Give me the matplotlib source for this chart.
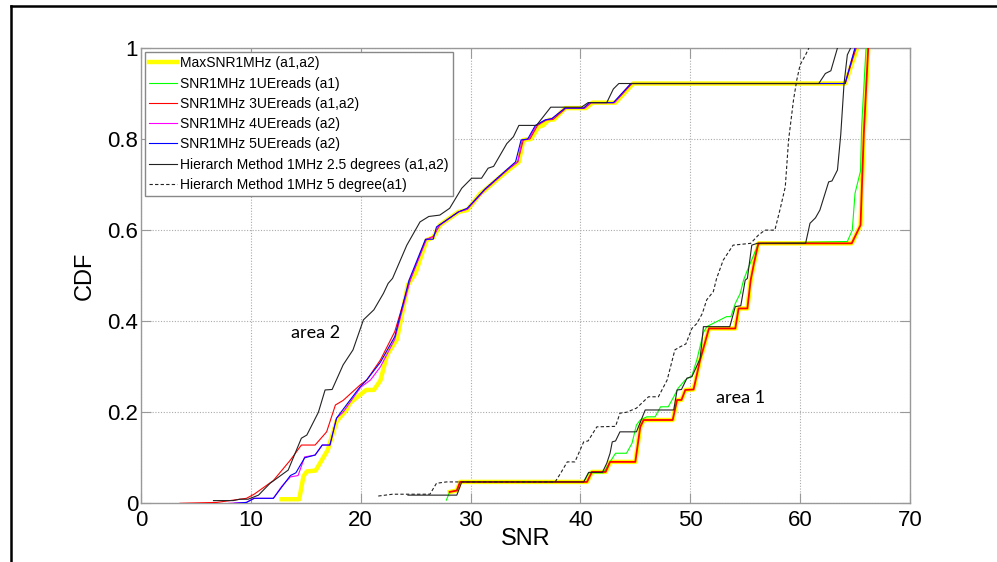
import numpy as np
import matplotlib.pyplot as plt
from matplotlib.lines import Line2D

plt.rcParams['font.family'] = ['Liberation Sans', 'DejaVu Sans']

# area 2 curves (a2)
yellow_a2_x = [12.8, 14.4, 14.8, 15.1, 15.9, 17.0, 17.8, 18.7, 19.0, 20.5, 21.2, 21.8, 22.4, 23.3, 24.3,
               25.0, 26.0, 26.6, 27.2, 28.9, 29.7, 30.9, 31.3, 32.7, 33.45, 34.4, 34.8, 35.5, 36.2, 36.6,
               37.1, 37.6, 38.6, 40.5, 41.1, 43.2, 44.8, 64.1, 65.2]
yellow_a2_y = [0.009, 0.009, 0.06, 0.07, 0.072, 0.117, 0.18, 0.205, 0.22, 0.249, 0.249, 0.27, 0.326, 0.36, 0.48,
               0.506, 0.578, 0.584, 0.611, 0.64, 0.644, 0.681, 0.688, 0.717, 0.732, 0.75, 0.798, 0.80, 0.827, 0.83,
               0.842, 0.843, 0.868, 0.868, 0.88, 0.88, 0.922, 0.922, 1.0]

red_a2_x = [3.55, 6.9, 9.6, 10.3, 12.05, 13.6, 14.6, 15.85, 16.9, 17.7, 18.4, 19.95, 20.55, 21.8, 23.1, 24.5,
            25.9, 26.6, 27.2, 28.9, 29.7, 31.3, 32.7, 33.4, 34.3, 34.8, 35.4, 36.1, 36.9, 37.5, 38.7, 40.4,
            41.0, 43.1, 44.7, 64.1, 65.1]
red_a2_y = [0.0, 0.002, 0.011, 0.02, 0.05, 0.095, 0.128, 0.128, 0.157, 0.216, 0.226, 0.26, 0.271, 0.315, 0.377, 0.49,
            0.578, 0.586, 0.611, 0.64, 0.646, 0.688, 0.718, 0.733, 0.75, 0.798, 0.80, 0.83, 0.842, 0.843, 0.868, 0.868,
            0.88, 0.88, 0.922, 0.922, 1.0]

magenta_a2_x = [8.0, 9.6, 10.3, 12.05, 12.8, 13.6, 14.3, 14.9, 15.85, 16.5, 17.2, 17.8, 18.4, 20.0, 20.9, 21.8,
                23.1, 24.5, 26.0, 26.6, 27.1, 28.9, 29.7, 31.3, 32.7, 33.4, 34.3, 34.7, 35.3, 36.0, 36.8, 37.4,
                38.6, 40.4, 40.9, 43.1, 44.6, 64.1, 65.0]
magenta_a2_y = [0.0, 0.002, 0.011, 0.011, 0.037, 0.058, 0.061, 0.102, 0.106, 0.128, 0.128, 0.187, 0.2, 0.255, 0.271, 0.30,
                0.36, 0.49, 0.58, 0.585, 0.609, 0.64, 0.646, 0.689, 0.719, 0.734, 0.75, 0.798, 0.80, 0.83, 0.842, 0.844,
                0.868, 0.868, 0.88, 0.88, 0.922, 0.922, 1.0]

blue_a2_x = [8.5, 9.6, 10.3, 12.05, 13.6, 14.1, 14.9, 15.85, 16.5, 17.2, 17.8, 18.7, 19.95, 20.55, 21.8, 23.1, 24.4,
             25.9, 26.6, 26.9, 28.9, 29.7, 31.3, 32.7, 33.4, 34.1, 34.6, 35.2, 35.9, 36.8, 37.4, 38.6, 40.3,
             40.8, 43.0, 44.6, 64.1, 65.0]
blue_a2_y = [0.0, 0.002, 0.011, 0.011, 0.061, 0.067, 0.10, 0.106, 0.128, 0.128, 0.187, 0.216, 0.256, 0.271, 0.31, 0.366, 0.49,
             0.58, 0.58, 0.607, 0.64, 0.648, 0.69, 0.72, 0.735, 0.75, 0.798, 0.80, 0.83, 0.842, 0.845, 0.868, 0.868,
             0.88, 0.88, 0.922, 0.922, 1.0]

black_a2_x = [6.6, 8.4, 9.0, 9.75, 10.7, 11.75, 13.4, 14.6, 15.1, 16.15, 16.76, 17.4, 18.4, 19.3, 20.25, 21.2, 22.07,
              22.5, 22.9, 24.2, 25.4, 26.2, 27.2, 28.1, 29.2, 30.1, 31.0, 31.6, 32.1, 33.3, 33.9, 34.4, 36.0,
              37.3, 40.1, 40.7, 42.4, 43.0, 43.5, 61.7, 62.3, 62.8, 63.4]
black_a2_y = [0.006, 0.006, 0.009, 0.009, 0.018, 0.044, 0.073, 0.143, 0.15, 0.2, 0.249, 0.25, 0.304, 0.337, 0.403, 0.425, 0.461,
              0.483, 0.494, 0.567, 0.618, 0.63, 0.633, 0.648, 0.692, 0.714, 0.714, 0.736, 0.74, 0.79, 0.805, 0.83, 0.83,
              0.87, 0.87, 0.88, 0.88, 0.91, 0.922, 0.922, 0.944, 0.95, 1.0]

# area 1 curves (a1)
yellow_a1_x = [28.1, 28.75, 29.05, 40.6, 41.05, 42.3, 42.7, 45.0, 45.45, 45.75, 48.4, 48.8, 49.2, 49.55, 50.3,
               50.9, 51.7, 54.1, 54.4, 55.2, 55.5, 55.8, 56.2, 64.7, 65.5, 65.8, 66.2]
yellow_a1_y = [0.025, 0.028, 0.047, 0.047, 0.069, 0.069, 0.091, 0.091, 0.168, 0.183, 0.183, 0.227, 0.227, 0.249, 0.25,
               0.315, 0.384, 0.384, 0.428, 0.428, 0.49, 0.527, 0.571, 0.571, 0.611, 0.813, 1.0]
red_a1_x = yellow_a1_x
red_a1_y = yellow_a1_y

green_a1_x = [27.8, 28.1, 28.75, 29.05, 40.3, 40.75, 42.1, 42.7, 43.2, 44.2, 44.7, 45.1, 45.45, 46.05, 46.8, 47.3,
              48.0, 48.5, 48.9, 49.55, 50.15, 50.6, 51.2, 51.5, 52.4, 53.3, 53.7, 54.1, 54.55, 54.85, 55.2, 56.1,
              56.4, 64.3, 64.75, 65.0, 65.5, 65.6, 66.0]
green_a1_y = [0.007, 0.025, 0.028, 0.047, 0.047, 0.067, 0.067, 0.091, 0.11, 0.11, 0.132, 0.172, 0.183, 0.19, 0.19, 0.212,
              0.212, 0.234, 0.253, 0.271, 0.28, 0.315, 0.375, 0.388, 0.399, 0.41, 0.41, 0.439, 0.461, 0.49, 0.512, 0.564,
              0.571, 0.575, 0.6, 0.681, 0.73, 0.827, 1.0]

black_a1_x = [24.3, 28.75, 29.2, 40.3, 40.75, 42.0, 42.4, 42.7, 42.9, 43.2, 43.6, 45.1, 45.9, 48.5, 48.8, 49.2, 49.7,
              50.15, 50.9, 51.2, 53.6, 54.1, 54.6, 55.0, 55.2, 55.6, 56.1, 60.5, 60.9, 61.4, 61.8, 62.6, 62.9,
              63.4, 63.7, 64.0, 64.3, 64.6]
black_a1_y = [0.018, 0.018, 0.047, 0.047, 0.068, 0.068, 0.088, 0.11, 0.135, 0.137, 0.157, 0.157, 0.205, 0.205, 0.249, 0.25, 0.275,
              0.278, 0.318, 0.388, 0.388, 0.432, 0.434, 0.49, 0.494, 0.567, 0.571, 0.571, 0.615, 0.627, 0.644, 0.706, 0.708,
              0.732, 0.81, 0.922, 0.985, 1.0]

dashed_a1_x = [21.6, 22.9, 26.3, 26.9, 27.8, 37.7, 38.2, 38.8, 39.5, 40.3, 40.7, 41.5, 43.2, 43.6, 44.2, 45.1, 46.2,
               47.1, 47.9, 48.6, 49.1, 49.6, 50.15, 50.6, 51.1, 51.5, 52.1, 52.4, 53.0, 53.9, 55.5, 56.2, 56.8,
               57.7, 58.2, 58.65, 58.95, 59.4, 59.7, 60.0, 60.5, 60.8]
dashed_a1_y = [0.016, 0.02, 0.02, 0.044, 0.047, 0.047, 0.066, 0.091, 0.091, 0.135, 0.137, 0.168, 0.169, 0.198, 0.2, 0.209, 0.234,
               0.234, 0.271, 0.337, 0.344, 0.35, 0.384, 0.395, 0.417, 0.447, 0.465, 0.494, 0.534, 0.567, 0.571, 0.589, 0.6,
               0.6, 0.648, 0.695, 0.798, 0.886, 0.93, 0.963, 0.985, 1.0]

labels = ['MaxSNR1MHz (a1,a2)', 'SNR1MHz 1UEreads (a1)', 'SNR1MHz 3UEreads (a1,a2)',
          'SNR1MHz 4UEreads (a2)', 'SNR1MHz 5UEreads (a2)',
          'Hierarch Method 1MHz 2.5 degrees (a1,a2)', 'Hierarch Method 1MHz 5 degree(a1)']
x_ticks = [0, 10, 20, 30, 40, 50, 60, 70]
y_ticks = [0, 0.2, 0.4, 0.6, 0.8, 1]
y_ticklabels = ['0', '0.2', '0.4', '0.6', '0.8', '1']

fig = plt.figure(figsize=(9.97, 5.62), dpi=100)
fig.patch.set_facecolor('#FFFFFF')
ax = fig.add_axes([0.1414, 0.1044, 0.7713, 0.8102])

#Curves, in MATLAB drawing order
ax.plot(yellow_a2_x, yellow_a2_y, color='#FFFF00', linewidth=3.2, label=labels[0], zorder=2)
ax.plot(yellow_a1_x, yellow_a1_y, color='#FFFF00', linewidth=3.2, zorder=2)
ax.plot(green_a1_x, green_a1_y, color='#00FF00', linewidth=0.8, label=labels[1], zorder=3)
ax.plot(red_a2_x, red_a2_y, color='#FF0000', linewidth=0.8, label=labels[2], zorder=4)
ax.plot(red_a1_x, red_a1_y, color='#FF0000', linewidth=1.3, zorder=4)
ax.plot(magenta_a2_x, magenta_a2_y, color='#FF00FF', linewidth=0.8, label=labels[3], zorder=5)
ax.plot(blue_a2_x, blue_a2_y, color='#0000FF', linewidth=0.8, label=labels[4], zorder=6)
ax.plot(black_a2_x, black_a2_y, color='#222222', linewidth=0.8, label=labels[5], zorder=7)
ax.plot(black_a1_x, black_a1_y, color='#222222', linewidth=0.8, zorder=7)
ax.plot(dashed_a1_x, dashed_a1_y, color='#222222', linewidth=0.8, linestyle=(0, (3, 2)),
        label=labels[6], zorder=8)

ax.set_xlim(0, 70)
ax.set_ylim(0, 1)
ax.set_xticks(x_ticks)
ax.set_yticks(y_ticks)
ax.set_yticklabels(y_ticklabels)
ax.tick_params(direction='in', length=7, color='#999999', labelsize=16, top=True, right=True)
ax.tick_params(axis='x', pad=5)
ax.tick_params(axis='y', pad=2)
for s in ax.spines.values():
    s.set_color('#999999')
    s.set_linewidth(1.0)
ax.grid(True, color='#aaaaaa', linestyle=(0, (1, 1.5)), linewidth=0.8)
ax.set_axisbelow(True)

ax.set_xlabel('SNR', fontsize=17, labelpad=-2)
ax.set_ylabel('CDF', fontsize=17, labelpad=8)

ax.text(15.9, 0.374, 'area 2', fontsize=13, family=['Lato', 'DejaVu Sans'], ha='center', va='center')
ax.text(54.6, 0.232, 'area 1', fontsize=13, family=['Lato', 'DejaVu Sans'], ha='center', va='center')

leg = ax.legend(loc='upper left', fontsize=10, frameon=True, fancybox=False, framealpha=1,
                edgecolor='#888888', handlelength=2.0, handletextpad=0.2, labelspacing=0.45,
                borderpad=0.3, borderaxespad=0.3)
leg.get_frame().set_linewidth(1.0)

#Frame around the picture (top and left edges only visible)
fig.add_artist(Line2D([11/997, 1], [1-6/562, 1-6/562], transform=fig.transFigure, color='black', linewidth=1.8))
fig.add_artist(Line2D([11/997, 11/997], [0, 1-6/562], transform=fig.transFigure, color='black', linewidth=1.8))

fig.savefig('out.png', dpi=100)
